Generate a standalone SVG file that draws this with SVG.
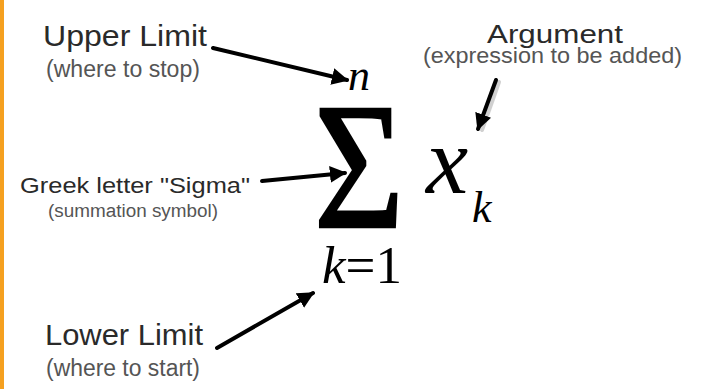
<svg xmlns="http://www.w3.org/2000/svg" width="703" height="389" viewBox="0 0 703 389">
<defs>
<style>
.lbl{font-family:"Liberation Sans",Arial,sans-serif;fill:#2a2a2a}
.sub{font-family:"Liberation Sans",Arial,sans-serif;fill:#555}
.math{font-family:"Liberation Serif","Times New Roman",serif;fill:#000}
.it{font-style:italic}
.arr{stroke:#000;stroke-width:4;fill:none;stroke-linecap:round}
</style>
<marker id="ah" viewBox="0 0 10 10" refX="9" refY="5" markerWidth="4.2" markerHeight="4.2" markerUnits="strokeWidth" orient="auto">
<path d="M0,0 L10,5 L0,10 Z" fill="#000"/>
</marker>
</defs>
<rect x="0" y="0" width="703" height="389" fill="#fff"/>
<rect x="0" y="0" width="4" height="389" fill="#F5A020"/>

<g id="upper-limit">
<text class="lbl" x="43" y="46" font-size="30" textLength="164" lengthAdjust="spacingAndGlyphs">Upper Limit</text>
<text class="sub" x="46" y="77" font-size="23" textLength="154" lengthAdjust="spacingAndGlyphs">(where to stop)</text>
</g>
<g id="argument">
<text class="lbl" x="487" y="43" font-size="25" textLength="136" lengthAdjust="spacingAndGlyphs">Argument</text>
<text class="sub" x="423" y="63" font-size="22" textLength="259" lengthAdjust="spacingAndGlyphs">(expression to be added)</text>
</g>
<g id="sigma-label">
<text class="lbl" x="20" y="193" font-size="22" textLength="230" lengthAdjust="spacingAndGlyphs">Greek letter "Sigma"</text>
<text class="sub" x="48" y="217" font-size="18" textLength="170" lengthAdjust="spacingAndGlyphs">(summation symbol)</text>
</g>
<g id="lower-limit">
<text class="lbl" x="45" y="345" font-size="30" textLength="158" lengthAdjust="spacingAndGlyphs">Lower Limit</text>
<text class="sub" x="46" y="376" font-size="23" textLength="154" lengthAdjust="spacingAndGlyphs">(where to start)</text>
</g>

<g id="formula">
<text class="math it" x="348" y="90" font-size="44">n</text>
<text class="math" x="0" y="0" font-size="180" stroke="#000" stroke-width="2.5" transform="translate(314,227) scale(0.86,1)">Σ</text>
<text class="math it" x="426" y="193" font-size="95">x</text>
<text class="math it" x="472" y="222" font-size="44">k</text>
<text class="math" x="322" y="283" font-size="53"><tspan class="it">k</tspan><tspan>=1</tspan></text>
</g>

<g id="connectors">
<line class="arr" x1="213" y1="48" x2="347" y2="80" marker-end="url(#ah)"/>
<line class="arr" x1="499" y1="82" x2="482" y2="130" style="stroke:#d0d0d0"/>
<line class="arr" x1="496" y1="80" x2="478" y2="129" marker-end="url(#ah)"/>
<line class="arr" x1="262" y1="181" x2="345" y2="173" marker-end="url(#ah)"/>
<line class="arr" x1="217" y1="348" x2="313" y2="293" marker-end="url(#ah)"/>
</g>
</svg>
